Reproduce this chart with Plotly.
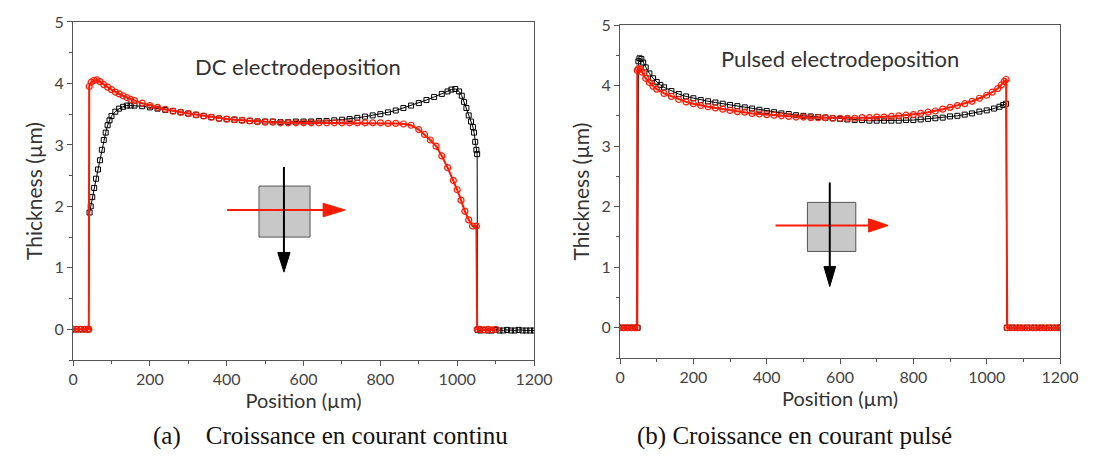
import plotly.graph_objects as go
from plotly.subplots import make_subplots

# DC electrodeposition - black squares
dc_black_x = [0, 10, 20, 30, 40, 43, 46, 50, 55, 60, 65, 70, 75, 80, 85, 90, 95, 100, 110, 120,
              130, 140, 150, 160, 180, 200, 220, 240, 260, 280, 300, 320, 340, 360, 380, 400,
              420, 440, 460, 480, 500, 520, 540, 560, 580, 600, 620, 640, 660, 680, 700, 720,
              740, 760, 780, 800, 820, 840, 860, 880, 900, 920, 940, 960, 975, 985, 995, 1005,
              1012, 1018, 1024, 1030, 1036, 1041, 1044, 1047, 1050, 1052, 1053, 1060, 1070,
              1080, 1090, 1100, 1110, 1120, 1130, 1140, 1150, 1160, 1170, 1180, 1190, 1200]
dc_black_y = [0, 0, 0, 0, 0, 1.9, 2.0, 2.15, 2.3, 2.45, 2.6, 2.75, 2.92, 3.08, 3.2, 3.32, 3.4,
              3.47, 3.54, 3.59, 3.62, 3.64, 3.64, 3.64, 3.63, 3.61, 3.59, 3.57, 3.55, 3.53, 3.51,
              3.49, 3.47, 3.45, 3.43, 3.42, 3.41, 3.40, 3.39, 3.38, 3.38, 3.38, 3.37, 3.37, 3.38,
              3.38, 3.38, 3.39, 3.39, 3.40, 3.41, 3.42, 3.44, 3.46, 3.48, 3.50, 3.53, 3.56, 3.60,
              3.64, 3.68, 3.73, 3.78, 3.83, 3.87, 3.90, 3.91, 3.87, 3.80, 3.70, 3.60, 3.48, 3.38,
              3.29, 3.2, 3.05, 2.92, 2.85, -0.01, -0.02, -0.01, -0.02, -0.02, -0.01, -0.02, -0.02,
              -0.01, -0.02, -0.02, -0.01, -0.02, -0.02, -0.02, -0.02]

# DC electrodeposition - red circles
dc_red_x = [0, 10, 20, 30, 38, 41, 42, 47, 55, 62, 70, 80, 90, 100, 110, 120, 130, 140, 150, 160,
            180, 200, 220, 240, 260, 280, 300, 320, 340, 360, 380, 400, 420, 440, 460, 480, 500,
            520, 540, 560, 580, 600, 620, 640, 660, 680, 700, 720, 740, 760, 780, 800, 820, 840,
            860, 880, 900, 915, 930, 945, 960, 975, 990, 1000, 1010, 1020, 1030, 1040, 1050, 1052,
            1060, 1070, 1080, 1090, 1100]
dc_red_y = [0, 0, 0, 0, 0, 0, 3.95, 4.02, 4.05, 4.06, 4.03, 3.98, 3.94, 3.9, 3.86, 3.83, 3.80,
            3.77, 3.74, 3.72, 3.68, 3.64, 3.61, 3.58, 3.55, 3.53, 3.51, 3.49, 3.47, 3.45, 3.43,
            3.42, 3.41, 3.40, 3.39, 3.38, 3.37, 3.37, 3.36, 3.36, 3.36, 3.36, 3.36, 3.36, 3.36,
            3.36, 3.36, 3.36, 3.36, 3.36, 3.36, 3.36, 3.35, 3.35, 3.34, 3.32, 3.25, 3.17, 3.08,
            2.98, 2.82, 2.63, 2.42, 2.27, 2.10, 1.92, 1.78, 1.68, 1.68, 0, 0, -0.01, 0, -0.01, 0]

# Pulsed electrodeposition - black squares
pc_black_x = [0, 10, 20, 30, 40, 48, 50, 53, 58, 63, 70, 80, 90, 100, 110, 120, 140, 160, 180,
              200, 220, 240, 260, 280, 300, 320, 340, 360, 380, 400, 420, 440, 460, 480, 500,
              520, 540, 560, 580, 600, 620, 640, 660, 680, 700, 720, 740, 760, 780, 800, 820,
              840, 860, 880, 900, 920, 940, 960, 980, 1000, 1020, 1035, 1045, 1053, 1055, 1070,
              1090, 1110, 1130, 1150, 1170, 1190, 1200]
pc_black_y = [0, 0, 0, 0, 0, 0, 4.4, 4.45, 4.44, 4.38, 4.3, 4.2, 4.12, 4.06, 4.01, 3.97, 3.91,
              3.86, 3.82, 3.79, 3.76, 3.74, 3.72, 3.70, 3.68, 3.66, 3.64, 3.62, 3.60, 3.58, 3.56,
              3.54, 3.53, 3.51, 3.50, 3.49, 3.48, 3.47, 3.46, 3.45, 3.44, 3.43, 3.43, 3.42, 3.42,
              3.42, 3.42, 3.42, 3.43, 3.43, 3.44, 3.45, 3.46, 3.47, 3.49, 3.50, 3.52, 3.54, 3.57,
              3.59, 3.62, 3.65, 3.68, 3.70, 0, 0, 0, 0, 0, 0, 0, 0, 0]

# Pulsed electrodeposition - red circles
pc_red_x = [0, 10, 20, 30, 40, 46, 47, 50, 55, 60, 70, 80, 90, 100, 120, 140, 160, 180, 200, 220,
            240, 260, 280, 300, 320, 340, 360, 380, 400, 420, 440, 460, 480, 500, 520, 540, 560,
            580, 600, 620, 640, 660, 680, 700, 720, 740, 760, 780, 800, 820, 840, 860, 880, 900,
            920, 940, 960, 980, 1000, 1015, 1030, 1040, 1048, 1053, 1056, 1065, 1075, 1085, 1095,
            1105, 1115, 1125, 1135, 1145, 1155, 1165, 1175, 1185, 1195, 1200]
pc_red_y = [0, 0, 0, 0, 0, 0, 4.25, 4.28, 4.27, 4.22, 4.12, 4.05, 3.99, 3.94, 3.87, 3.82, 3.77,
            3.73, 3.70, 3.67, 3.65, 3.63, 3.61, 3.59, 3.57, 3.56, 3.54, 3.53, 3.52, 3.51, 3.50,
            3.49, 3.48, 3.48, 3.47, 3.47, 3.47, 3.46, 3.46, 3.46, 3.46, 3.47, 3.47, 3.48, 3.48,
            3.49, 3.50, 3.51, 3.52, 3.54, 3.56, 3.58, 3.61, 3.64, 3.67, 3.70, 3.74, 3.79, 3.84,
            3.89, 3.95, 4.01, 4.07, 4.10, 0, 0, 0, 0, 0, 0, 0, 0, 0, 0, 0, 0, 0, 0, 0, 0]

x_ticks = [0, 200, 400, 600, 800, 1000, 1200]
y_ticks = [0, 1, 2, 3, 4, 5]

RED = "#ff1a00"
AX = "#555555"
FONT = "Lato"

fig = make_subplots(rows=1, cols=2)

def add_pair(bx, by, rx, ry, col):
    fig.add_trace(go.Scatter(
        x=bx, y=by, mode="lines+markers",
        line=dict(color="black", width=1),
        marker=dict(symbol="square-open", size=5, color="black", line=dict(width=1)),
        showlegend=False), row=1, col=col)
    fig.add_trace(go.Scatter(
        x=rx, y=ry, mode="lines+markers",
        line=dict(color=RED, width=2),
        marker=dict(symbol="circle-open", size=6, color=RED, line=dict(width=1.2)),
        showlegend=False), row=1, col=col)

add_pair(dc_black_x, dc_black_y, dc_red_x, dc_red_y, 1)
add_pair(pc_black_x, pc_black_y, pc_red_x, pc_red_y, 2)

axis_common = dict(
    showline=True, linecolor=AX, linewidth=1, mirror=True, showgrid=False, zeroline=False,
    ticks="outside", ticklen=5, tickcolor=AX, tickwidth=1, automargin=False,
    ticklabeloverflow="allow",
    tickfont=dict(family=FONT, size=16, color="#444444"),
)
fig.update_xaxes(range=[0, 1200], tickvals=x_ticks,
                 minor=dict(dtick=100, ticks="outside", ticklen=3, tickcolor=AX),
                 title=dict(text="Position (µm)", font=dict(family=FONT, size=20, color="#333333"),
                            standoff=4),
                 **axis_common)
fig.update_yaxes(range=[-0.5, 5], tickvals=y_ticks,
                 minor=dict(dtick=0.5, ticks="outside", ticklen=3, tickcolor=AX),
                 title=dict(text="Thickness (µm)", font=dict(family=FONT, size=21, color="#333333"),
                            standoff=6),
                 **axis_common)

# page body keeps an 8px margin, so the figure is drawn smaller to fit the window
fig.update_layout(
    width=1077, height=444,
    margin=dict(l=0, r=0, t=0, b=0),
    paper_bgcolor="white", plot_bgcolor="white",
    xaxis=dict(domain=[0.0604, 0.4884]),
    xaxis2=dict(domain=[0.5683, 0.9768]),
    yaxis=dict(domain=[0.2072, 0.9685]),
    yaxis2=dict(domain=[0.2117, 0.9617]),
)

# inset sketches: gray sample with scan arrows
insets = [
    dict(xr="x", yr="y", sq=(484, 617, 1.50, 2.33), vx=549, vy=(2.64, 0.93), vh=1.25,
         hy=1.94, hx=(401, 708), hh=651),
    dict(xr="x2", yr="y2", sq=(511, 643, 1.26, 2.07), vx=572, vy=(2.40, 0.68), vh=1.01,
         hy=1.69, hx=(424, 731), hh=678),
]
shapes = []
for s in insets:
    x0, x1, y0, y1 = s["sq"]
    shapes.append(dict(type="rect", xref=s["xr"], yref=s["yr"], x0=x0, x1=x1, y0=y0, y1=y1,
                       fillcolor="#c8c8c8", line=dict(color="#555555", width=1)))
    shapes.append(dict(type="line", xref=s["xr"], yref=s["yr"], x0=s["hx"][0], x1=s["hh"] + 2,
                       y0=s["hy"], y1=s["hy"], line=dict(color=RED, width=2)))
    shapes.append(dict(type="path", xref=s["xr"], yref=s["yr"],
                       path=f"M {s['hh']},{s['hy'] + 0.11} L {s['hx'][1]},{s['hy']} "
                            f"L {s['hh']},{s['hy'] - 0.11} Z",
                       fillcolor=RED, line=dict(color=RED, width=1)))
    shapes.append(dict(type="line", xref=s["xr"], yref=s["yr"], x0=s["vx"], x1=s["vx"],
                       y0=s["vy"][0], y1=s["vh"], line=dict(color="black", width=2)))
    shapes.append(dict(type="path", xref=s["xr"], yref=s["yr"],
                       path=f"M {s['vx'] - 16},{s['vh']} L {s['vx']},{s['vy'][1]} "
                            f"L {s['vx'] + 16},{s['vh']} Z",
                       fillcolor="black", line=dict(color="black", width=1)))
fig.update_layout(shapes=shapes)

fig.add_annotation(x=586, y=4.27, xref="x", yref="y", text="DC electrodeposition",
                   showarrow=False, font=dict(family=FONT, size=22, color="#333333"))
fig.add_annotation(x=601, y=4.45, xref="x2", yref="y2", text="Pulsed electrodeposition",
                   showarrow=False, font=dict(family=FONT, size=22, color="#333333"))

cap_font = dict(family="Liberation Serif", size=25, color="#111111")
fig.add_annotation(x=0.299, y=0.036, xref="paper", yref="paper", xanchor="center",
                   yanchor="middle",
                   text="(a)\u00a0\u00a0\u00a0 Croissance en courant continu",
                   showarrow=False, font=cap_font)
fig.add_annotation(x=0.7307, y=0.036, xref="paper", yref="paper", xanchor="center",
                   yanchor="middle",
                   text="(b) Croissance en courant pulsé",
                   showarrow=False, font=cap_font)

fig.write_html("out.html")
